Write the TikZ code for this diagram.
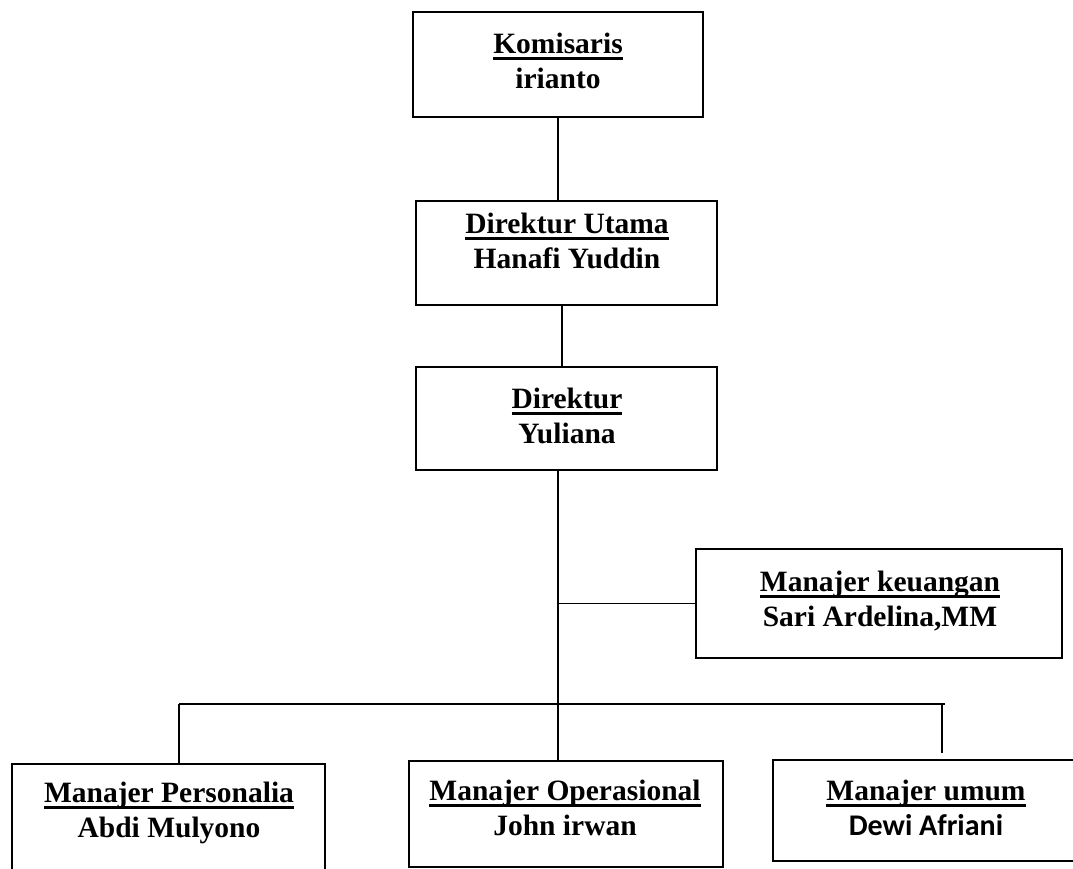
\documentclass[tikz,border=0pt]{standalone}
\usepackage{fontspec}
\setmainfont{Liberation Serif}
\newfontfamily\calib{Carlito}
\newcommand{\myul}[1]{\setbox0\hbox{#1}\leavevmode\rlap{\vrule height -3.5pt depth 6.8pt width \wd0}\box0}
\tikzset{
  orgbox/.style={draw=black, line width=2.6pt, rectangle, inner sep=0pt},
  orgtext/.style={anchor=north, inner sep=0pt, align=center, font=\fontsize{29.5}{35}\selectfont\bfseries},
  conn/.style={draw=black, line width=1.3pt},
  thickconn/.style={draw=black, line width=1.9pt}
}
\begin{document}
\begin{tikzpicture}[x=1pt, y=-1pt]
\useasboundingbox (0,0) rectangle (1073,869);
\clip (0,0) rectangle (1073,869);
\fill[white] (0,0) rectangle (1073,869);
% boxes
\node[orgbox, minimum width=290pt, minimum height=105pt] (kom) at (558,64.5) {};
\node[orgbox, minimum width=301pt, minimum height=104pt] (dirut) at (566.5,253) {};
\node[orgbox, minimum width=301pt, minimum height=103pt] (dir) at (566.5,418.5) {};
\node[orgbox, minimum width=366pt, minimum height=109pt] (keu) at (879,603.5) {};
\node[orgbox, minimum width=313pt, minimum height=130pt] (pers) at (168.5,829) {};
\node[orgbox, minimum width=314pt, minimum height=106pt] (ops) at (566,814) {};
\node[orgbox, minimum width=306pt, minimum height=101pt] (umum) at (926,810.5) {};
% texts
\node[orgtext] (komt) at (558,33) {\myul{Komisaris}\\irianto};
\node[orgtext] (dirutt) at (567,213) {\myul{Direktur Utama}\\Hanafi Yuddin};
\node[orgtext] (dirt) at (567,388) {\myul{Direktur}\\Yuliana};
\node[orgtext] (keut) at (880,571) {\myul{Manajer keuangan}\\Sari Ardelina,MM};
\node[orgtext] (perst) at (169,782) {\myul{Manajer Personalia}\\Abdi Mulyono};
\node[orgtext] (opst) at (565,780) {\myul{Manajer Operasional}\\John irwan};
\node[orgtext] (umumt) at (926,780) {\myul{Manajer umum}\\{\calib\fontsize{30}{35}\selectfont Dewi Afriani}};
% connectors
\coordinate (busL) at (179,704);
\coordinate (busR) at (945,704);
\coordinate (umumend) at (942,753);
\draw[thickconn] (kom.south) -- (dirut.north -| kom.south);
\draw[conn] (dirut.south -| 562,0) -- (dir.north -| 562,0);
\draw[conn] (dir.south -| 558,0) -- (ops.north -| 558,0);
\draw[conn] (keu.west -| 558,0) -- (keu.west);
\draw[conn] (busL) -- (busR);
\draw[conn] (busL) -- (pers.north -| busL);
\draw[conn] (busL -| umumend) -- (umumend);
\end{tikzpicture}
\end{document}
